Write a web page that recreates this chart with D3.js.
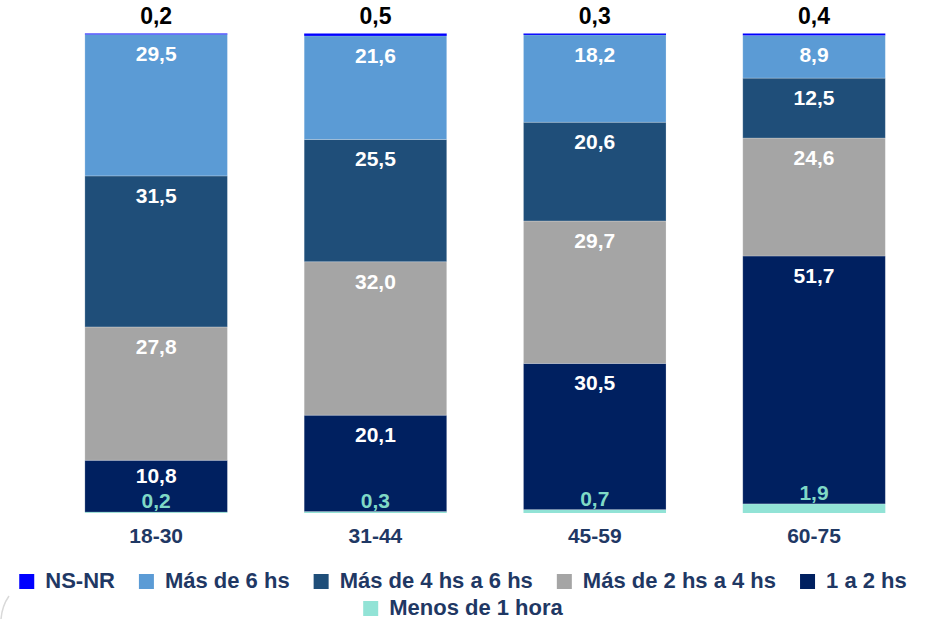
<!DOCTYPE html>
<html>
<head>
<meta charset="utf-8">
<script src="https://cdn.jsdelivr.net/npm/d3@7"></script>
<style>
  html, body { margin: 0; padding: 0; background: #ffffff; }
  svg { display: block; font-family: "Liberation Sans", Arial, sans-serif; }
</style>
</head>
<body>
<svg id="chart" width="925" height="619"></svg>
<script>
// ---- Data ----
const categories = ["18-30", "31-44", "45-59", "60-75"];
const seriesNames = ["Menos de 1 hora", "1 a 2 hs", "Más de 2 hs a 4 hs", "Más de 4 hs a 6 hs", "Más de 6 hs", "NS-NR"];
const menos1hora = [0.2, 0.3, 0.7, 1.9];
const de1a2hs = [10.8, 20.1, 30.5, 51.7];
const mas2a4hs = [27.8, 32.0, 29.7, 24.6];
const mas4a6hs = [31.5, 25.5, 20.6, 12.5];
const mas6hs = [29.5, 21.6, 18.2, 8.9];
const nsnr = [0.2, 0.5, 0.3, 0.4];
const legendOrder = ["NS-NR", "Más de 6 hs", "Más de 4 hs a 6 hs", "Más de 2 hs a 4 hs", "1 a 2 hs", "Menos de 1 hora"];

const seriesValues = [menos1hora, de1a2hs, mas2a4hs, mas4a6hs, mas6hs, nsnr];
const colors = {
  "Menos de 1 hora": "#92E3D6",
  "1 a 2 hs": "#002060",
  "Más de 2 hs a 4 hs": "#A5A5A5",
  "Más de 4 hs a 6 hs": "#1F4E79",
  "Más de 6 hs": "#5B9BD5",
  "NS-NR": "#0000FF"
};
const textNavy = "#1F3864";
const fmt = v => v.toFixed(1).replace(".", ",");

const rows = categories.map((c, i) => {
  const r = { cat: c };
  seriesNames.forEach((s, k) => r[s] = seriesValues[k][i]);
  return r;
});

const svg = d3.select("#chart");

const x = d3.scaleBand()
  .domain(categories)
  .range([46.5, 46.5 + 4 * 219.3])
  .paddingInner(0.35)
  .paddingOuter(0.175);

const y = d3.scaleLinear().domain([0, 100]).range([513, 33.5]);

const stacked = d3.stack().keys(seriesNames)(rows);

const g = svg.append("g");

const layers = g.selectAll("g.layer")
  .data(stacked)
  .join("g")
  .attr("class", "layer")
  .attr("fill", d => colors[d.key]);

layers.selectAll("rect")
  .data(d => d.map(p => Object.assign(p, { key: d.key })))
  .join("rect")
  .attr("x", d => x(d.data.cat))
  .attr("width", x.bandwidth())
  .attr("y", d => y(d[1]))
  .attr("height", d => y(d[0]) - y(d[1]))
  .attr("stroke", d => d.key === "NS-NR" || d.key === "Menos de 1 hora" ? "none" : "#ffffff")
  .attr("stroke-opacity", 0.3)
  .attr("stroke-width", 0.75);

// Labels
stacked.forEach(layer => {
  const key = layer.key;
  layer.forEach(p => {
    const cx = x(p.data.cat) + x.bandwidth() / 2;
    const v = p.data[key];
    if (key === "NS-NR") {
      g.append("text")
        .attr("x", cx).attr("y", 24)
        .attr("text-anchor", "middle")
        .attr("font-size", 23).attr("font-weight", "bold")
        .attr("fill", "#000000")
        .text(fmt(v));
    } else if (key === "Menos de 1 hora") {
      g.append("text")
        .attr("x", cx).attr("y", y(p[1]) - 4)
        .attr("text-anchor", "middle")
        .attr("font-size", 21).attr("font-weight", "bold")
        .attr("fill", "#7FD9C6")
        .text(fmt(v));
    } else {
      const h = y(p[0]) - y(p[1]);
      // segment sitting on the small teal label gets its label nudged up to leave room
      const off = key === "1 a 2 hs" ? Math.min(27, h * 0.44) : 27;
      g.append("text")
        .attr("x", cx).attr("y", y(p[1]) + off)
        .attr("text-anchor", "middle")
        .attr("font-size", 21).attr("font-weight", "bold")
        .attr("fill", "#ffffff")
        .text(fmt(v));
    }
  });
});

// Category axis
const xAxis = d3.axisBottom(x).tickSize(0).tickPadding(0);
const ax = svg.append("g").attr("transform", "translate(0,528)").call(xAxis);
ax.select(".domain").remove();
ax.selectAll("text")
  .attr("dy", "0.71em")
  .attr("font-size", 21)
  .attr("font-weight", "bold")
  .attr("font-family", "Liberation Sans, Arial, sans-serif")
  .attr("fill", textNavy);

// Legend
const legendRows = [legendOrder.slice(0, 5), legendOrder.slice(5)];
const legendY = [588, 615];
const mk = 15, textOff = 26, itemGap = 24, legendCenter = 463;
legendRows.forEach((items, ri) => {
  const lg = svg.append("g");
  let cur = 0;
  items.forEach(name => {
    const it = lg.append("g").attr("transform", `translate(${cur},0)`);
    it.append("rect")
      .attr("x", 0).attr("y", legendY[ri] - 14)
      .attr("width", mk).attr("height", mk)
      .attr("fill", colors[name]);
    const t = it.append("text")
      .attr("x", textOff).attr("y", legendY[ri])
      .attr("font-size", 22).attr("font-weight", "bold")
      .attr("fill", textNavy)
      .text(name);
    cur += textOff + t.node().getComputedTextLength() + itemGap;
  });
  const total = cur - itemGap;
  lg.attr("transform", `translate(${legendCenter - total / 2},0)`);
});

// faint slide-corner border at bottom-left
svg.append("path")
  .attr("d", "M 9,596 Q 2,606 1,619")
  .attr("fill", "none")
  .attr("stroke", "#d9d9d9")
  .attr("stroke-width", 1.5);
</script>
</body>
</html>
